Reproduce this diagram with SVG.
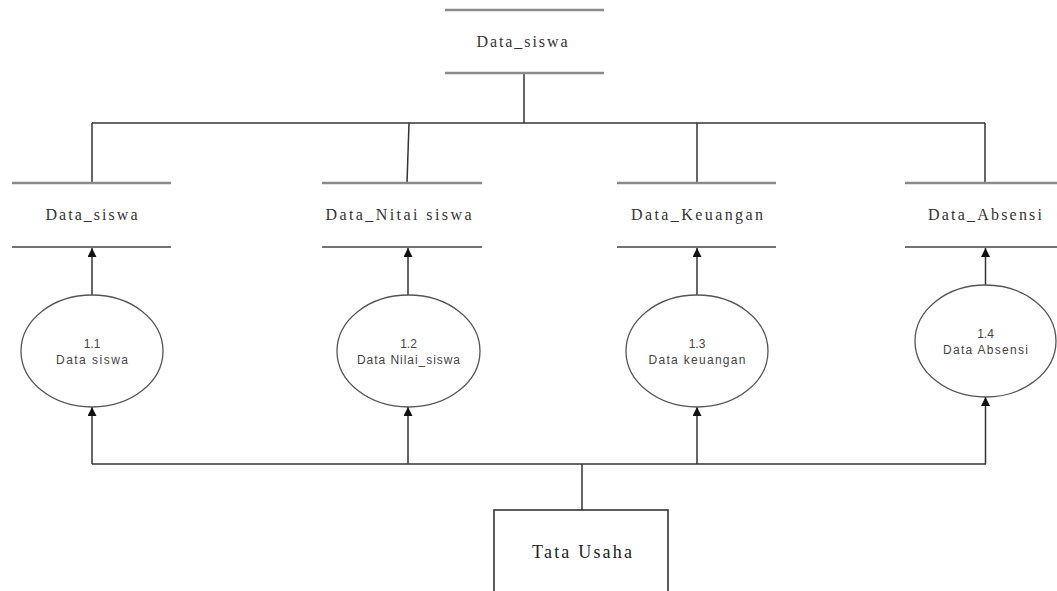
<svg xmlns="http://www.w3.org/2000/svg" width="1057" height="591" viewBox="0 0 1057 591">
<defs>
<style>
.bg{fill:#ffffff}
.thick{stroke:#8a8a8a;stroke-width:2.5;fill:none}
.thin{stroke:#444;stroke-width:1.5;fill:none}
.conn{stroke:#333;stroke-width:1.5;fill:none}
.proc{fill:#fff;stroke:#555;stroke-width:1.3}
.box{fill:#fff;stroke:#333;stroke-width:1.6}
.st{font-family:"Liberation Serif","Times New Roman",serif;font-size:16px;fill:#333;text-anchor:middle}
.pt{font-family:"Liberation Sans",Arial,sans-serif;font-size:12px;fill:#444;text-anchor:middle}
.et{font-family:"Liberation Serif","Times New Roman",serif;font-size:18px;fill:#222;text-anchor:middle}
</style>
<marker id="arr" viewBox="0 0 10 10" refX="10" refY="5" markerWidth="9" markerHeight="9" markerUnits="userSpaceOnUse" orient="auto">
<path d="M0,0 L10,5 L0,10 z" fill="#111"/>
</marker>
</defs>
<rect class="bg" x="0" y="0" width="1057" height="591"/>

<g id="connectors">
<line class="conn" x1="524" y1="73" x2="524" y2="123"/>
<line class="conn" x1="92" y1="123" x2="985" y2="123"/>
<line class="conn" x1="92" y1="123" x2="92" y2="183"/>
<line class="conn" x1="409" y1="123" x2="407" y2="183"/>
<line class="conn" x1="697" y1="123" x2="697" y2="183"/>
<line class="conn" x1="985" y1="123" x2="985" y2="183"/>
<line class="conn" x1="92" y1="295" x2="92" y2="248" marker-end="url(#arr)"/>
<line class="conn" x1="408" y1="295" x2="408" y2="248" marker-end="url(#arr)"/>
<line class="conn" x1="697" y1="295" x2="697" y2="248" marker-end="url(#arr)"/>
<line class="conn" x1="985.5" y1="285" x2="985.5" y2="248" marker-end="url(#arr)"/>
<line class="conn" x1="92" y1="464" x2="986" y2="464"/>
<line class="conn" x1="582" y1="464" x2="582" y2="510"/>
<line class="conn" x1="92" y1="464" x2="92" y2="407" marker-end="url(#arr)"/>
<line class="conn" x1="408" y1="464" x2="408" y2="407" marker-end="url(#arr)"/>
<line class="conn" x1="697" y1="464" x2="697" y2="407" marker-end="url(#arr)"/>
<line class="conn" x1="985.5" y1="464" x2="985.5" y2="397" marker-end="url(#arr)"/>
</g>

<g id="store-top">
<line class="thick" x1="445" y1="10" x2="604" y2="10"/>
<line class="thick" x1="445" y1="73" x2="604" y2="73"/>
<text class="st" x="522" y="47" textLength="91" lengthAdjust="spacing">Data_siswa</text>
</g>

<g id="store-1">
<line class="thick" x1="12" y1="183" x2="171" y2="183"/>
<line class="thin" x1="12" y1="247" x2="171" y2="247"/>
<text class="st" x="91.5" y="220" textLength="92" lengthAdjust="spacing">Data_siswa</text>
</g>

<g id="store-2">
<line class="thick" x1="322" y1="183" x2="482" y2="183"/>
<line class="thin" x1="322" y1="247" x2="482" y2="247"/>
<text class="st" x="398.5" y="220" textLength="146" lengthAdjust="spacing">Data_Nitai siswa</text>
</g>

<g id="store-3">
<line class="thick" x1="617" y1="183" x2="776" y2="183"/>
<line class="thin" x1="617" y1="247" x2="776" y2="247"/>
<text class="st" x="697" y="220" textLength="132" lengthAdjust="spacing">Data_Keuangan</text>
</g>

<g id="store-4">
<line class="thick" x1="905" y1="183" x2="1057" y2="183"/>
<line class="thin" x1="905" y1="247" x2="1057" y2="247"/>
<text class="st" x="985" y="220" textLength="114" lengthAdjust="spacing">Data_Absensi</text>
</g>

<g id="proc-1-1">
<ellipse class="proc" cx="92" cy="351" rx="71" ry="56"/>
<text class="pt" x="92" y="348">1.1</text>
<text class="pt" x="92" y="364" textLength="72" lengthAdjust="spacing">Data siswa</text>
</g>

<g id="proc-1-2">
<ellipse class="proc" cx="408.5" cy="351" rx="71.5" ry="56"/>
<text class="pt" x="408.5" y="348">1.2</text>
<text class="pt" x="408.5" y="364" textLength="103" lengthAdjust="spacing">Data Nilai_siswa</text>
</g>

<g id="proc-1-3">
<ellipse class="proc" cx="697" cy="351" rx="71" ry="56"/>
<text class="pt" x="697" y="348">1.3</text>
<text class="pt" x="697" y="364" textLength="97" lengthAdjust="spacing">Data keuangan</text>
</g>

<g id="proc-1-4">
<ellipse class="proc" cx="985.5" cy="341" rx="70.5" ry="56"/>
<text class="pt" x="985.5" y="338">1.4</text>
<text class="pt" x="985.5" y="354" textLength="85" lengthAdjust="spacing">Data Absensi</text>
</g>

<g id="entity-tata-usaha">
<rect class="box" x="494" y="510" width="174" height="95"/>
<text class="et" x="582" y="558" textLength="100" lengthAdjust="spacing">Tata Usaha</text>
</g>
</svg>
